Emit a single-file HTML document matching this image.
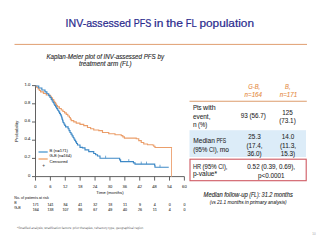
<!DOCTYPE html>
<html><head><meta charset="utf-8"><style>
html,body{margin:0;padding:0;background:#fff;width:320px;height:240px;overflow:hidden;}
svg{display:block;}
</style></head><body>
<svg width="320" height="240" viewBox="0 0 320 240">
<text x="65.60" y="26.60" font-family="Liberation Sans, sans-serif" font-size="11.30" fill="#2b2b8e" textLength="65.33" lengthAdjust="spacingAndGlyphs" stroke="#2b2b8e" stroke-width="0.22" >INV-assessed</text>
<text x="133.73" y="26.60" font-family="Liberation Sans, sans-serif" font-size="11.30" fill="#2b2b8e" textLength="17.57" lengthAdjust="spacingAndGlyphs" stroke="#2b2b8e" stroke-width="0.22" >PFS</text>
<text x="154.09" y="26.60" font-family="Liberation Sans, sans-serif" font-size="11.30" fill="#2b2b8e" textLength="9.33" lengthAdjust="spacingAndGlyphs" stroke="#2b2b8e" stroke-width="0.22" >in</text>
<text x="166.21" y="26.60" font-family="Liberation Sans, sans-serif" font-size="11.30" fill="#2b2b8e" textLength="16.78" lengthAdjust="spacingAndGlyphs" stroke="#2b2b8e" stroke-width="0.22" >the</text>
<text x="185.79" y="26.60" font-family="Liberation Sans, sans-serif" font-size="11.30" fill="#2b2b8e" textLength="10.88" lengthAdjust="spacingAndGlyphs" stroke="#2b2b8e" stroke-width="0.22" >FL</text>
<text x="199.46" y="26.60" font-family="Liberation Sans, sans-serif" font-size="11.30" fill="#2b2b8e" textLength="54.54" lengthAdjust="spacingAndGlyphs" stroke="#2b2b8e" stroke-width="0.22" >population</text>
<line x1="14.5" y1="44.4" x2="307" y2="44.4" stroke="#e09e70" stroke-width="1"/>
<text x="46.40" y="58.50" font-family="Liberation Sans, sans-serif" font-size="6.50" font-style="italic" fill="#2a2a2a" text-anchor="start" textLength="117.60" lengthAdjust="spacingAndGlyphs" stroke="#2a2a2a" stroke-width="0.12" >Kaplan-Meier plot of INV-assessed PFS by</text>
<text x="79.00" y="65.60" font-family="Liberation Sans, sans-serif" font-size="6.50" font-style="italic" fill="#2a2a2a" text-anchor="start" textLength="52.50" lengthAdjust="spacingAndGlyphs" stroke="#2a2a2a" stroke-width="0.12" >treatment arm (FL)</text>
<path d="M35.5 85.1 V176.6 H184.4" fill="none" stroke="#505050" stroke-width="0.9"/>
<line x1="32.0" y1="176.60" x2="35.5" y2="176.60" stroke="#505050" stroke-width="0.9"/>
<text x="30.40" y="176.50" font-family="Liberation Sans, sans-serif" font-size="4.20" fill="#464646" text-anchor="end" stroke="#464646" stroke-width="0.08" >0</text>
<line x1="32.0" y1="158.40" x2="35.5" y2="158.40" stroke="#505050" stroke-width="0.9"/>
<text x="30.40" y="158.30" font-family="Liberation Sans, sans-serif" font-size="4.20" fill="#464646" text-anchor="end" stroke="#464646" stroke-width="0.08" >0.2</text>
<line x1="32.0" y1="140.20" x2="35.5" y2="140.20" stroke="#505050" stroke-width="0.9"/>
<text x="30.40" y="140.10" font-family="Liberation Sans, sans-serif" font-size="4.20" fill="#464646" text-anchor="end" stroke="#464646" stroke-width="0.08" >0.4</text>
<line x1="32.0" y1="122.00" x2="35.5" y2="122.00" stroke="#505050" stroke-width="0.9"/>
<text x="30.40" y="121.90" font-family="Liberation Sans, sans-serif" font-size="4.20" fill="#464646" text-anchor="end" stroke="#464646" stroke-width="0.08" >0.6</text>
<line x1="32.0" y1="103.80" x2="35.5" y2="103.80" stroke="#505050" stroke-width="0.9"/>
<text x="30.40" y="103.70" font-family="Liberation Sans, sans-serif" font-size="4.20" fill="#464646" text-anchor="end" stroke="#464646" stroke-width="0.08" >0.8</text>
<line x1="32.0" y1="85.60" x2="35.5" y2="85.60" stroke="#505050" stroke-width="0.9"/>
<text x="30.40" y="85.50" font-family="Liberation Sans, sans-serif" font-size="4.20" fill="#464646" text-anchor="end" stroke="#464646" stroke-width="0.08" >1.0</text>
<line x1="35.50" y1="176.6" x2="35.50" y2="180.6" stroke="#505050" stroke-width="0.9"/>
<text x="35.50" y="187.90" font-family="Liberation Sans, sans-serif" font-size="4.10" fill="#464646" text-anchor="middle" stroke="#464646" stroke-width="0.08" >0</text>
<line x1="50.39" y1="176.6" x2="50.39" y2="180.6" stroke="#505050" stroke-width="0.9"/>
<text x="50.39" y="187.90" font-family="Liberation Sans, sans-serif" font-size="4.10" fill="#464646" text-anchor="middle" stroke="#464646" stroke-width="0.08" >6</text>
<line x1="65.28" y1="176.6" x2="65.28" y2="180.6" stroke="#505050" stroke-width="0.9"/>
<text x="65.28" y="187.90" font-family="Liberation Sans, sans-serif" font-size="4.10" fill="#464646" text-anchor="middle" stroke="#464646" stroke-width="0.08" >12</text>
<line x1="80.17" y1="176.6" x2="80.17" y2="180.6" stroke="#505050" stroke-width="0.9"/>
<text x="80.17" y="187.90" font-family="Liberation Sans, sans-serif" font-size="4.10" fill="#464646" text-anchor="middle" stroke="#464646" stroke-width="0.08" >18</text>
<line x1="95.06" y1="176.6" x2="95.06" y2="180.6" stroke="#505050" stroke-width="0.9"/>
<text x="95.06" y="187.90" font-family="Liberation Sans, sans-serif" font-size="4.10" fill="#464646" text-anchor="middle" stroke="#464646" stroke-width="0.08" >24</text>
<line x1="109.95" y1="176.6" x2="109.95" y2="180.6" stroke="#505050" stroke-width="0.9"/>
<text x="109.95" y="187.90" font-family="Liberation Sans, sans-serif" font-size="4.10" fill="#464646" text-anchor="middle" stroke="#464646" stroke-width="0.08" >30</text>
<line x1="124.84" y1="176.6" x2="124.84" y2="180.6" stroke="#505050" stroke-width="0.9"/>
<text x="124.84" y="187.90" font-family="Liberation Sans, sans-serif" font-size="4.10" fill="#464646" text-anchor="middle" stroke="#464646" stroke-width="0.08" >36</text>
<line x1="139.73" y1="176.6" x2="139.73" y2="180.6" stroke="#505050" stroke-width="0.9"/>
<text x="139.73" y="187.90" font-family="Liberation Sans, sans-serif" font-size="4.10" fill="#464646" text-anchor="middle" stroke="#464646" stroke-width="0.08" >42</text>
<line x1="154.62" y1="176.6" x2="154.62" y2="180.6" stroke="#505050" stroke-width="0.9"/>
<text x="154.62" y="187.90" font-family="Liberation Sans, sans-serif" font-size="4.10" fill="#464646" text-anchor="middle" stroke="#464646" stroke-width="0.08" >48</text>
<line x1="169.51" y1="176.6" x2="169.51" y2="180.6" stroke="#505050" stroke-width="0.9"/>
<text x="169.51" y="187.90" font-family="Liberation Sans, sans-serif" font-size="4.10" fill="#464646" text-anchor="middle" stroke="#464646" stroke-width="0.08" >54</text>
<line x1="184.40" y1="176.6" x2="184.40" y2="180.6" stroke="#505050" stroke-width="0.9"/>
<text x="184.40" y="187.90" font-family="Liberation Sans, sans-serif" font-size="4.10" fill="#464646" text-anchor="middle" stroke="#464646" stroke-width="0.08" >60</text>
<text x="110.00" y="194.10" font-family="Liberation Sans, sans-serif" font-size="4.30" fill="#464646" text-anchor="middle" textLength="27.30" lengthAdjust="spacingAndGlyphs" stroke="#464646" stroke-width="0.08" >Time (months)</text>
<text x="0.00" y="0.00" font-family="Liberation Sans, sans-serif" font-size="4.40" fill="#464646" text-anchor="middle" textLength="21.30" lengthAdjust="spacingAndGlyphs" stroke="#464646" stroke-width="0.08" transform="translate(18.4 131.3) rotate(-90)">Probability</text>
<path d="M35.50 86.00 L36.77 86.00 L36.77 87.47 L38.05 87.47 L38.05 88.95 L39.33 88.95 L39.33 90.43 L40.60 90.43 L40.60 91.90 L43.42 91.90 L43.42 93.45 L46.25 93.45 L46.25 95.00 L50.00 95.00 L50.00 96.25 L51.25 96.25 L51.25 97.92 L52.50 97.92 L52.50 99.58 L53.75 99.58 L53.75 101.25 L54.69 101.25 L54.69 102.66 L55.62 102.66 L55.62 104.08 L56.56 104.08 L56.56 105.49 L57.50 105.49 L57.50 106.90 L59.38 106.90 L59.38 108.45 L61.25 108.45 L61.25 110.00 L62.92 110.00 L62.92 111.47 L64.58 111.47 L64.58 112.93 L66.25 112.93 L66.25 114.40 L67.83 114.40 L67.83 115.95 L69.40 115.95 L69.40 117.50 L70.33 117.50 L70.33 119.05 L71.25 119.05 L71.25 120.60 L73.75 120.60 L73.75 121.85 L76.25 121.85 L76.25 123.10 L80.00 123.10 L80.00 124.35 L83.75 124.35 L83.75 125.60 L87.50 125.60 L87.50 127.50 L90.62 127.50 L90.62 128.75 L93.75 128.75 L93.75 130.00 L98.75 130.00 L98.75 130.60 L102.50 130.60 L102.50 132.50 L108.75 132.50 L108.75 133.75 L115.00 133.75 L115.00 134.75 L121.25 134.75 L121.25 135.60 L122.83 135.60 L122.83 136.85 L124.40 136.85 L124.40 138.10 L136.25 138.10 L136.25 138.75 L138.75 138.75 L138.75 140.60 L141.25 140.60 L141.25 142.50 L143.75 142.50 L143.75 144.00 L147.50 144.00 L147.50 144.75 L152.50 144.75 L152.50 145.00 L153.75 145.00 L153.75 146.25 L155.00 146.25 L155.00 147.50 L171.50 147.50 L171.50 148.10" fill="none" stroke="#eb9e6a" stroke-width="1.15"/>
<path d="M171.5 148.1 V176.6" fill="none" stroke="#eeaa7e" stroke-width="1"/>
<path d="M35.50 86.00 L38.75 86.00 L38.75 88.00 L41.88 88.00 L41.88 89.95 L45.00 89.95 L45.00 91.90 L46.88 91.90 L46.88 93.75 L48.75 93.75 L48.75 95.60 L50.00 95.60 L50.00 97.50 L51.25 97.50 L51.25 99.40 L52.17 99.40 L52.17 100.95 L53.10 100.95 L53.10 102.50 L53.93 102.50 L53.93 103.97 L54.77 103.97 L54.77 105.43 L55.60 105.43 L55.60 106.90 L56.65 106.90 L56.65 108.57 L57.70 108.57 L57.70 110.23 L58.75 110.23 L58.75 111.90 L59.58 111.90 L59.58 113.35 L60.42 113.35 L60.42 114.80 L61.25 114.80 L61.25 116.25 L61.71 116.25 L61.71 117.81 L62.17 117.81 L62.17 119.38 L62.64 119.38 L62.64 120.94 L63.10 120.94 L63.10 122.50 L63.93 122.50 L63.93 123.97 L64.77 123.97 L64.77 125.43 L65.60 125.43 L65.60 126.90 L68.10 126.90 L68.10 128.75 L69.05 128.75 L69.05 130.62 L70.00 130.62 L70.00 132.50 L71.03 132.50 L71.03 134.17 L72.07 134.17 L72.07 135.83 L73.10 135.83 L73.10 137.50 L73.93 137.50 L73.93 138.97 L74.77 138.97 L74.77 140.43 L75.60 140.43 L75.60 141.90 L76.55 141.90 L76.55 143.45 L77.50 143.45 L77.50 145.00 L80.00 145.00 L80.00 147.30 L82.50 147.30 L82.50 147.90 L85.00 147.90 L85.00 149.80 L88.75 149.80 L88.75 151.60 L93.75 151.60 L93.75 153.50 L95.62 153.50 L95.62 154.75 L97.50 154.75 L97.50 156.00 L100.00 156.00 L100.00 158.20 L118.75 158.20 L118.75 158.20 L119.67 158.20 L119.67 159.90 L120.60 159.90 L120.60 161.60 L131.90 161.60 L131.90 161.60 L133.45 161.60 L133.45 162.85 L135.00 162.85 L135.00 164.10 L154.40 164.10 L154.40 164.10 L154.70 164.10 L154.70 165.68 L155.00 165.68 L155.00 167.25 L168.75 167.25 L168.75 167.25" fill="none" stroke="#3e89c6" stroke-width="1.15"/>
<line x1="105.6" y1="155.7" x2="105.6" y2="158.2" stroke="#3e89c6" stroke-width="0.7"/>
<line x1="128.75" y1="159.1" x2="128.75" y2="161.6" stroke="#3e89c6" stroke-width="0.7"/>
<line x1="141.25" y1="161.6" x2="141.25" y2="164.1" stroke="#3e89c6" stroke-width="0.7"/>
<line x1="146.5" y1="161.6" x2="146.5" y2="164.1" stroke="#3e89c6" stroke-width="0.7"/>
<line x1="160" y1="164.75" x2="160" y2="167.25" stroke="#3e89c6" stroke-width="0.7"/>
<line x1="38.5" y1="152" x2="47.7" y2="152" stroke="#3d8fcc" stroke-width="1.2"/>
<line x1="38.5" y1="159" x2="47.7" y2="159" stroke="#ee9a5a" stroke-width="1.2"/>
<text x="49.50" y="152.00" font-family="Liberation Sans, sans-serif" font-size="4.20" fill="#464646" text-anchor="start" stroke="#464646" stroke-width="0.08" >B (n=171)</text>
<text x="49.50" y="157.10" font-family="Liberation Sans, sans-serif" font-size="4.20" fill="#464646" text-anchor="start" textLength="22.00" lengthAdjust="spacingAndGlyphs" stroke="#464646" stroke-width="0.08" >G-B (n=164)</text>
<text x="49.50" y="162.50" font-family="Liberation Sans, sans-serif" font-size="4.20" fill="#464646" text-anchor="start" stroke="#464646" stroke-width="0.08" >Censored</text>
<text x="43.75" y="167.30" font-family="Liberation Sans, sans-serif" font-size="4.80" fill="#464646" text-anchor="middle" stroke="#464646" stroke-width="0.04" >+</text>
<text x="14.30" y="198.60" font-family="Liberation Sans, sans-serif" font-size="3.68" fill="#4a4a4a" text-anchor="start" stroke="#4a4a4a" stroke-width="0.08" >No. of patients at risk</text>
<text x="14.30" y="203.60" font-family="Liberation Sans, sans-serif" font-size="3.60" fill="#4a4a4a" text-anchor="start" stroke="#4a4a4a" stroke-width="0.08" >B</text>
<text x="14.30" y="208.70" font-family="Liberation Sans, sans-serif" font-size="3.60" fill="#4a4a4a" text-anchor="start" stroke="#4a4a4a" stroke-width="0.08" >G-B</text>
<text x="35.70" y="206.10" font-family="Liberation Sans, sans-serif" font-size="3.80" fill="#4a4a4a" text-anchor="middle" textLength="6.00" lengthAdjust="spacingAndGlyphs" stroke="#4a4a4a" stroke-width="0.1" >171</text>
<text x="35.70" y="210.80" font-family="Liberation Sans, sans-serif" font-size="3.80" fill="#4a4a4a" text-anchor="middle" textLength="6.00" lengthAdjust="spacingAndGlyphs" stroke="#4a4a4a" stroke-width="0.1" >164</text>
<text x="50.59" y="206.10" font-family="Liberation Sans, sans-serif" font-size="3.80" fill="#4a4a4a" text-anchor="middle" textLength="6.00" lengthAdjust="spacingAndGlyphs" stroke="#4a4a4a" stroke-width="0.1" >141</text>
<text x="50.59" y="210.80" font-family="Liberation Sans, sans-serif" font-size="3.80" fill="#4a4a4a" text-anchor="middle" textLength="6.00" lengthAdjust="spacingAndGlyphs" stroke="#4a4a4a" stroke-width="0.1" >138</text>
<text x="65.48" y="206.10" font-family="Liberation Sans, sans-serif" font-size="3.80" fill="#4a4a4a" text-anchor="middle" textLength="4.00" lengthAdjust="spacingAndGlyphs" stroke="#4a4a4a" stroke-width="0.1" >84</text>
<text x="65.48" y="210.80" font-family="Liberation Sans, sans-serif" font-size="3.80" fill="#4a4a4a" text-anchor="middle" textLength="6.00" lengthAdjust="spacingAndGlyphs" stroke="#4a4a4a" stroke-width="0.1" >107</text>
<text x="80.37" y="206.10" font-family="Liberation Sans, sans-serif" font-size="3.80" fill="#4a4a4a" text-anchor="middle" textLength="4.00" lengthAdjust="spacingAndGlyphs" stroke="#4a4a4a" stroke-width="0.1" >41</text>
<text x="80.37" y="210.80" font-family="Liberation Sans, sans-serif" font-size="3.80" fill="#4a4a4a" text-anchor="middle" textLength="4.00" lengthAdjust="spacingAndGlyphs" stroke="#4a4a4a" stroke-width="0.1" >86</text>
<text x="95.26" y="206.10" font-family="Liberation Sans, sans-serif" font-size="3.80" fill="#4a4a4a" text-anchor="middle" textLength="4.00" lengthAdjust="spacingAndGlyphs" stroke="#4a4a4a" stroke-width="0.1" >32</text>
<text x="95.26" y="210.80" font-family="Liberation Sans, sans-serif" font-size="3.80" fill="#4a4a4a" text-anchor="middle" textLength="4.00" lengthAdjust="spacingAndGlyphs" stroke="#4a4a4a" stroke-width="0.1" >67</text>
<text x="110.15" y="206.10" font-family="Liberation Sans, sans-serif" font-size="3.80" fill="#4a4a4a" text-anchor="middle" textLength="4.00" lengthAdjust="spacingAndGlyphs" stroke="#4a4a4a" stroke-width="0.1" >18</text>
<text x="110.15" y="210.80" font-family="Liberation Sans, sans-serif" font-size="3.80" fill="#4a4a4a" text-anchor="middle" textLength="4.00" lengthAdjust="spacingAndGlyphs" stroke="#4a4a4a" stroke-width="0.1" >49</text>
<text x="125.04" y="206.10" font-family="Liberation Sans, sans-serif" font-size="3.80" fill="#4a4a4a" text-anchor="middle" textLength="4.00" lengthAdjust="spacingAndGlyphs" stroke="#4a4a4a" stroke-width="0.1" >11</text>
<text x="125.04" y="210.80" font-family="Liberation Sans, sans-serif" font-size="3.80" fill="#4a4a4a" text-anchor="middle" textLength="4.00" lengthAdjust="spacingAndGlyphs" stroke="#4a4a4a" stroke-width="0.1" >40</text>
<text x="139.93" y="206.10" font-family="Liberation Sans, sans-serif" font-size="3.80" fill="#4a4a4a" text-anchor="middle" textLength="2.00" lengthAdjust="spacingAndGlyphs" stroke="#4a4a4a" stroke-width="0.1" >9</text>
<text x="139.93" y="210.80" font-family="Liberation Sans, sans-serif" font-size="3.80" fill="#4a4a4a" text-anchor="middle" textLength="4.00" lengthAdjust="spacingAndGlyphs" stroke="#4a4a4a" stroke-width="0.1" >26</text>
<text x="154.82" y="206.10" font-family="Liberation Sans, sans-serif" font-size="3.80" fill="#4a4a4a" text-anchor="middle" textLength="2.00" lengthAdjust="spacingAndGlyphs" stroke="#4a4a4a" stroke-width="0.1" >4</text>
<text x="154.82" y="210.80" font-family="Liberation Sans, sans-serif" font-size="3.80" fill="#4a4a4a" text-anchor="middle" textLength="4.00" lengthAdjust="spacingAndGlyphs" stroke="#4a4a4a" stroke-width="0.1" >11</text>
<text x="169.71" y="206.10" font-family="Liberation Sans, sans-serif" font-size="3.80" fill="#4a4a4a" text-anchor="middle" textLength="2.00" lengthAdjust="spacingAndGlyphs" stroke="#4a4a4a" stroke-width="0.1" >0</text>
<text x="169.71" y="210.80" font-family="Liberation Sans, sans-serif" font-size="3.80" fill="#4a4a4a" text-anchor="middle" textLength="2.00" lengthAdjust="spacingAndGlyphs" stroke="#4a4a4a" stroke-width="0.1" >4</text>
<text x="184.60" y="206.10" font-family="Liberation Sans, sans-serif" font-size="3.80" fill="#4a4a4a" text-anchor="middle" textLength="2.00" lengthAdjust="spacingAndGlyphs" stroke="#4a4a4a" stroke-width="0.1" >0</text>
<text x="184.60" y="210.80" font-family="Liberation Sans, sans-serif" font-size="3.80" fill="#4a4a4a" text-anchor="middle" textLength="2.00" lengthAdjust="spacingAndGlyphs" stroke="#4a4a4a" stroke-width="0.1" >0</text>
<rect x="189.5" y="130.2" width="116.5" height="26.8" fill="#dcecf8"/>
<line x1="189.5" y1="101.2" x2="306.8" y2="101.2" stroke="#dd9c6c" stroke-width="1.1"/>
<rect x="190" y="159.2" width="116.2" height="21.5" fill="none" stroke="#cf5a63" stroke-width="1.1"/>
<text x="248.35" y="88.75" font-family="Liberation Sans, sans-serif" font-size="7.42" font-style="italic" fill="#e68c44" textLength="11.89" lengthAdjust="spacingAndGlyphs" stroke="#e68c44" stroke-width="0.12" >G-B,</text>
<text x="244.52" y="97.00" font-family="Liberation Sans, sans-serif" font-size="7.42" font-style="italic" fill="#e68c44" textLength="17.55" lengthAdjust="spacingAndGlyphs" stroke="#e68c44" stroke-width="0.12" >n=164</text>
<text x="285.10" y="88.75" font-family="Liberation Sans, sans-serif" font-size="7.42" font-style="italic" fill="#e68c44" textLength="5.40" lengthAdjust="spacingAndGlyphs" stroke="#e68c44" stroke-width="0.12" >B,</text>
<text x="279.72" y="97.00" font-family="Liberation Sans, sans-serif" font-size="7.42" font-style="italic" fill="#e68c44" textLength="17.55" lengthAdjust="spacingAndGlyphs" stroke="#e68c44" stroke-width="0.12" >n=171</text>
<text x="192.90" y="110.30" font-family="Liberation Sans, sans-serif" font-size="7.42" fill="#1e1e1e" textLength="8.65" lengthAdjust="spacingAndGlyphs" stroke="#1e1e1e" stroke-width="0.06" >Pts</text>
<text x="203.12" y="110.30" font-family="Liberation Sans, sans-serif" font-size="7.42" fill="#1e1e1e" textLength="12.51" lengthAdjust="spacingAndGlyphs" stroke="#1e1e1e" stroke-width="0.06" >with</text>
<text x="192.90" y="118.50" font-family="Liberation Sans, sans-serif" font-size="7.42" fill="#1e1e1e" textLength="17.55" lengthAdjust="spacingAndGlyphs" stroke="#1e1e1e" stroke-width="0.06" >event,</text>
<text x="192.90" y="126.60" font-family="Liberation Sans, sans-serif" font-size="7.42" fill="#1e1e1e" textLength="3.64" lengthAdjust="spacingAndGlyphs" stroke="#1e1e1e" stroke-width="0.06" >n</text>
<text x="198.11" y="126.60" font-family="Liberation Sans, sans-serif" font-size="7.42" fill="#1e1e1e" textLength="9.16" lengthAdjust="spacingAndGlyphs" stroke="#1e1e1e" stroke-width="0.06" >(%)</text>
<text x="240.86" y="118.00" font-family="Liberation Sans, sans-serif" font-size="7.42" fill="#1e1e1e" textLength="7.02" lengthAdjust="spacingAndGlyphs" stroke="#1e1e1e" stroke-width="0.06" >93</text>
<text x="249.45" y="118.00" font-family="Liberation Sans, sans-serif" font-size="7.42" fill="#1e1e1e" textLength="16.49" lengthAdjust="spacingAndGlyphs" stroke="#1e1e1e" stroke-width="0.06" >(56.7)</text>
<text x="282.13" y="114.50" font-family="Liberation Sans, sans-serif" font-size="7.42" fill="#1e1e1e" textLength="10.54" lengthAdjust="spacingAndGlyphs" stroke="#1e1e1e" stroke-width="0.06" >125</text>
<text x="279.26" y="123.00" font-family="Liberation Sans, sans-serif" font-size="7.42" fill="#1e1e1e" textLength="16.49" lengthAdjust="spacingAndGlyphs" stroke="#1e1e1e" stroke-width="0.06" >(73.1)</text>
<text x="193.25" y="143.30" font-family="Liberation Sans, sans-serif" font-size="7.42" fill="#1e1e1e" textLength="21.56" lengthAdjust="spacingAndGlyphs" stroke="#1e1e1e" stroke-width="0.06" >Median</text>
<text x="216.38" y="143.30" font-family="Liberation Sans, sans-serif" font-size="7.42" fill="#1e1e1e" textLength="9.85" lengthAdjust="spacingAndGlyphs" stroke="#1e1e1e" stroke-width="0.06" >PFS</text>
<text x="193.25" y="151.80" font-family="Liberation Sans, sans-serif" font-size="7.42" fill="#1e1e1e" textLength="14.08" lengthAdjust="spacingAndGlyphs" stroke="#1e1e1e" stroke-width="0.06" >(95%</text>
<text x="208.90" y="151.80" font-family="Liberation Sans, sans-serif" font-size="7.42" fill="#1e1e1e" textLength="9.27" lengthAdjust="spacingAndGlyphs" stroke="#1e1e1e" stroke-width="0.06" >CI),</text>
<text x="219.74" y="151.80" font-family="Liberation Sans, sans-serif" font-size="7.42" fill="#1e1e1e" textLength="9.19" lengthAdjust="spacingAndGlyphs" stroke="#1e1e1e" stroke-width="0.06" >mo</text>
<text x="248.36" y="139.20" font-family="Liberation Sans, sans-serif" font-size="7.42" fill="#1e1e1e" textLength="12.29" lengthAdjust="spacingAndGlyphs" stroke="#1e1e1e" stroke-width="0.06" >25.3</text>
<text x="246.44" y="147.65" font-family="Liberation Sans, sans-serif" font-size="7.42" fill="#1e1e1e" textLength="16.12" lengthAdjust="spacingAndGlyphs" stroke="#1e1e1e" stroke-width="0.06" >(17.4,</text>
<text x="247.31" y="156.10" font-family="Liberation Sans, sans-serif" font-size="7.42" fill="#1e1e1e" textLength="14.39" lengthAdjust="spacingAndGlyphs" stroke="#1e1e1e" stroke-width="0.06" >36.0)</text>
<text x="281.86" y="139.20" font-family="Liberation Sans, sans-serif" font-size="7.42" fill="#1e1e1e" textLength="12.29" lengthAdjust="spacingAndGlyphs" stroke="#1e1e1e" stroke-width="0.06" >14.0</text>
<text x="279.94" y="147.65" font-family="Liberation Sans, sans-serif" font-size="7.42" fill="#1e1e1e" textLength="16.12" lengthAdjust="spacingAndGlyphs" stroke="#1e1e1e" stroke-width="0.06" >(11.3,</text>
<text x="280.81" y="156.10" font-family="Liberation Sans, sans-serif" font-size="7.42" fill="#1e1e1e" textLength="14.39" lengthAdjust="spacingAndGlyphs" stroke="#1e1e1e" stroke-width="0.06" >15.3)</text>
<text x="192.90" y="168.90" font-family="Liberation Sans, sans-serif" font-size="7.42" fill="#1e1e1e" textLength="8.08" lengthAdjust="spacingAndGlyphs" stroke="#1e1e1e" stroke-width="0.06" >HR</text>
<text x="202.55" y="168.90" font-family="Liberation Sans, sans-serif" font-size="7.42" fill="#1e1e1e" textLength="14.08" lengthAdjust="spacingAndGlyphs" stroke="#1e1e1e" stroke-width="0.06" >(95%</text>
<text x="218.19" y="168.90" font-family="Liberation Sans, sans-serif" font-size="7.42" fill="#1e1e1e" textLength="9.27" lengthAdjust="spacingAndGlyphs" stroke="#1e1e1e" stroke-width="0.06" >CI),</text>
<text x="192.90" y="176.40" font-family="Liberation Sans, sans-serif" font-size="7.42" fill="#1e1e1e" textLength="24.18" lengthAdjust="spacingAndGlyphs" stroke="#1e1e1e" stroke-width="0.06" >p-value*</text>
<text x="247.37" y="169.40" font-family="Liberation Sans, sans-serif" font-size="7.42" fill="#1e1e1e" textLength="12.29" lengthAdjust="spacingAndGlyphs" stroke="#1e1e1e" stroke-width="0.06" >0.52</text>
<text x="261.23" y="169.40" font-family="Liberation Sans, sans-serif" font-size="7.42" fill="#1e1e1e" textLength="16.12" lengthAdjust="spacingAndGlyphs" stroke="#1e1e1e" stroke-width="0.06" >(0.39,</text>
<text x="278.91" y="169.40" font-family="Liberation Sans, sans-serif" font-size="7.42" fill="#1e1e1e" textLength="16.12" lengthAdjust="spacingAndGlyphs" stroke="#1e1e1e" stroke-width="0.06" >0.69),</text>
<text x="258.00" y="177.60" font-family="Liberation Sans, sans-serif" font-size="7.42" fill="#1e1e1e" textLength="26.40" lengthAdjust="spacingAndGlyphs" stroke="#1e1e1e" stroke-width="0.06" >p&lt;0.0001</text>
<text x="203.50" y="197.40" font-family="Liberation Sans, sans-serif" font-size="6.90" font-style="italic" fill="#1e1e1e" textLength="19.25" lengthAdjust="spacingAndGlyphs" stroke="#1e1e1e" stroke-width="0.1" >Median</text>
<text x="224.15" y="197.40" font-family="Liberation Sans, sans-serif" font-size="6.90" font-style="italic" fill="#1e1e1e" textLength="23.70" lengthAdjust="spacingAndGlyphs" stroke="#1e1e1e" stroke-width="0.1" >follow-up</text>
<text x="249.25" y="197.40" font-family="Liberation Sans, sans-serif" font-size="6.90" font-style="italic" fill="#1e1e1e" textLength="10.87" lengthAdjust="spacingAndGlyphs" stroke="#1e1e1e" stroke-width="0.1" >(FL):</text>
<text x="261.53" y="197.40" font-family="Liberation Sans, sans-serif" font-size="6.90" font-style="italic" fill="#1e1e1e" textLength="10.99" lengthAdjust="spacingAndGlyphs" stroke="#1e1e1e" stroke-width="0.1" >31.2</text>
<text x="273.92" y="197.40" font-family="Liberation Sans, sans-serif" font-size="6.90" font-style="italic" fill="#1e1e1e" textLength="18.89" lengthAdjust="spacingAndGlyphs" stroke="#1e1e1e" stroke-width="0.1" >months</text>
<text x="209.70" y="204.20" font-family="Liberation Sans, sans-serif" font-size="5.80" font-style="italic" fill="#1e1e1e" textLength="6.00" lengthAdjust="spacingAndGlyphs" stroke="#1e1e1e" stroke-width="0.06" >(vs</text>
<text x="216.89" y="204.20" font-family="Liberation Sans, sans-serif" font-size="5.80" font-style="italic" fill="#1e1e1e" textLength="9.38" lengthAdjust="spacingAndGlyphs" stroke="#1e1e1e" stroke-width="0.06" >21.1</text>
<text x="227.47" y="204.20" font-family="Liberation Sans, sans-serif" font-size="5.80" font-style="italic" fill="#1e1e1e" textLength="16.12" lengthAdjust="spacingAndGlyphs" stroke="#1e1e1e" stroke-width="0.06" >months</text>
<text x="244.78" y="204.20" font-family="Liberation Sans, sans-serif" font-size="5.80" font-style="italic" fill="#1e1e1e" textLength="3.93" lengthAdjust="spacingAndGlyphs" stroke="#1e1e1e" stroke-width="0.06" >in</text>
<text x="249.91" y="204.20" font-family="Liberation Sans, sans-serif" font-size="5.80" font-style="italic" fill="#1e1e1e" textLength="16.86" lengthAdjust="spacingAndGlyphs" stroke="#1e1e1e" stroke-width="0.06" >primary</text>
<text x="267.97" y="204.20" font-family="Liberation Sans, sans-serif" font-size="5.80" font-style="italic" fill="#1e1e1e" textLength="18.68" lengthAdjust="spacingAndGlyphs" stroke="#1e1e1e" stroke-width="0.06" >analysis)</text>
<text x="17" y="229" font-family="Liberation Sans, sans-serif" font-size="3.3" fill="#666" text-rendering="geometricPrecision" textLength="126.25" lengthAdjust="spacingAndGlyphs">*Stratified analysis; stratification factors: prior therapies, refractory type, geographical region</text>
<text x="314.00" y="235.20" font-family="Liberation Sans, sans-serif" font-size="3.00" fill="#a0a0a0" text-anchor="middle" stroke="#a0a0a0" stroke-width="0" >10</text>
</svg>
</body></html>
